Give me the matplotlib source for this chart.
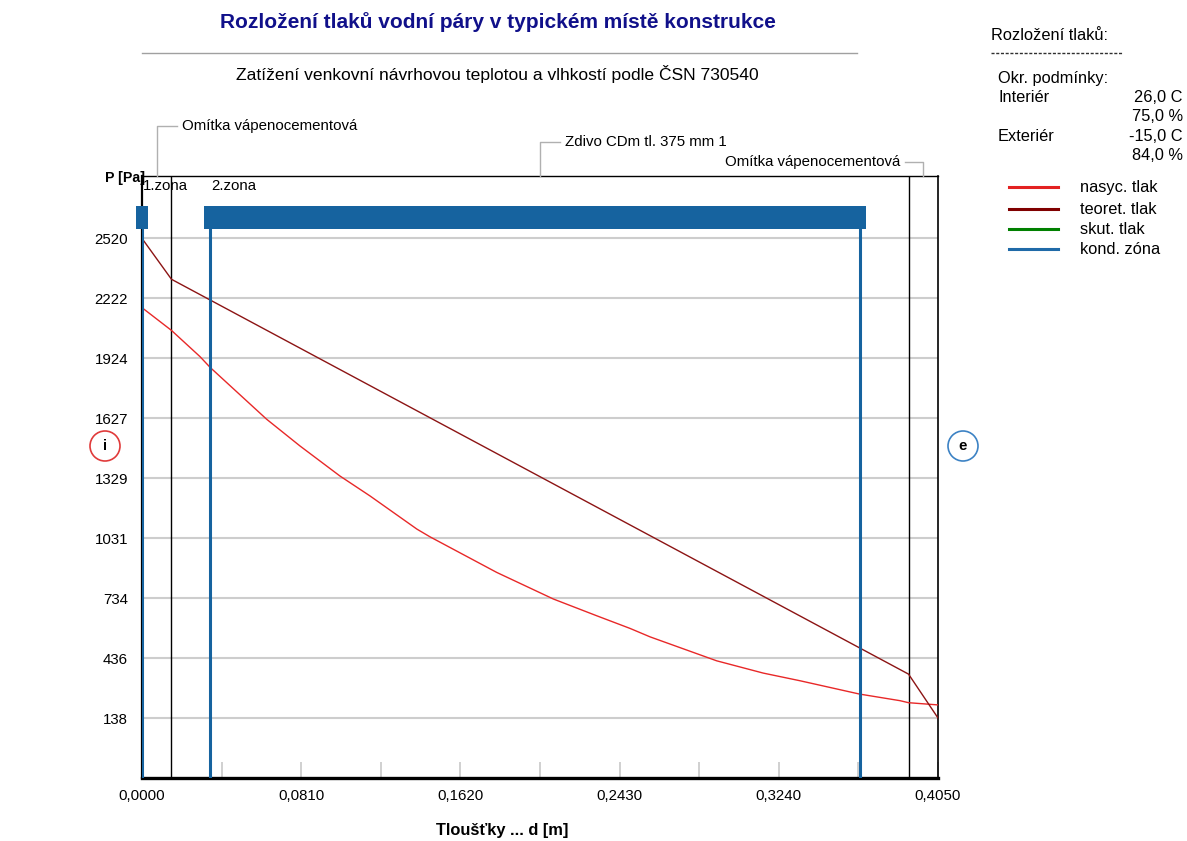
import matplotlib
matplotlib.use("Agg")
import matplotlib.pyplot as plt
from matplotlib.patches import Rectangle, Circle
from matplotlib.lines import Line2D

plt.rcParams['font.family'] = ['Liberation Sans', 'DejaVu Sans']

# ---- data -----------------------------------------------------------------
title = "Rozložení tlaků vodní páry v typickém místě konstrukce"
subtitle = "Zatížení venkovní návrhovou teplotou a vlhkostí podle ČSN 730540"

layer_names = ["Omítka vápenocementová", "Zdivo CDm tl. 375 mm 1", "Omítka vápenocementová"]
layer_bounds = [0.0, 0.015, 0.390, 0.405]

# theoretical partial pressure of water vapour [Pa]
teor_d = [0.0, 0.015, 0.390, 0.405]
teor_p = [2520, 2317, 356, 138]

# saturated vapour pressure [Pa]
sat_d = [0.0, 0.015, 0.0295, 0.0346, 0.0634, 0.0804, 0.1007, 0.1160, 0.1399,
         0.1465, 0.1805, 0.2093, 0.2313, 0.2483, 0.2585, 0.2924, 0.3161,
         0.3348, 0.3650, 0.3857, 0.390, 0.405]
sat_p = [2176, 2063, 1933, 1880, 1622, 1489, 1340, 1241, 1076,
         1038, 861, 729, 646, 583, 541, 422, 361,
         323, 257, 224, 214, 203]

# condensation zones (start, end) [m]
zone_start = [0.0, 0.0346]
zone_end = [0.0, 0.3653]
zone_labels = ["1.zona", "2.zona"]

y_ticks = [138, 436, 734, 1031, 1329, 1627, 1924, 2222, 2520]
x_ticks = [0.0, 0.081, 0.162, 0.243, 0.324, 0.405]
x_minor = [0.0405, 0.1215, 0.2025, 0.2835, 0.3645]
x_tick_labels = ["0,0000", "0,0810", "0,1620", "0,2430", "0,3240", "0,4050"]

cond_names = ["Interiér", "", "Exteriér", ""]
cond_values = ["26,0 C", "75,0 %", "-15,0 C", "84,0 %"]

legend_labels = ["nasyc. tlak", "teoret. tlak", "skut. tlak", "kond. zóna"]
legend_colors = ["#e32222", "#800000", "#008000", "#1f6aa8"]

# ---- styling --------------------------------------------------------------
W, H = 1187, 841
FS = 10.8
FS_SIDE = 11.8
C_SAT = "#e82828"
C_TEOR = "#8c1414"
C_ZONE = "#16639f"
C_GRID = "#cdcdcd"
TITLE_C = "#10108a"

fig = plt.figure(figsize=(W / 100, H / 100), dpi=100)
fig.patch.set_facecolor("white")

ax = fig.add_axes([142 / W, 1 - 778 / H, 796 / W, 602 / H])
ax.set_xlim(0, 0.405)
ax.set_ylim(-160, 2830)

ax.set_axisbelow(True)
ax.set_yticks(y_ticks)
ax.set_yticklabels([str(v) for v in y_ticks], fontsize=FS)
ax.yaxis.grid(True, color=C_GRID, lw=1.5)
ax.tick_params(axis="y", length=0, pad=10)

ax.set_xticks(x_ticks)
ax.set_xticklabels(x_tick_labels, fontsize=FS)
ax.set_xticks(x_minor, minor=True)
ax.tick_params(axis="x", which="both", direction="in", length=11.5,
               width=1.2, color="#c8c8c8", pad=8)

for side, lw in (("bottom", 2.4), ("top", 1.0), ("right", 1.2), ("left", 1.6)):
    ax.spines[side].set_linewidth(lw)
    ax.spines[side].set_color("black")

# layer boundaries
for b in layer_bounds[1:-1]:
    ax.axvline(b, color="black", lw=1.0, zorder=3)

# pressure curves
ax.plot(sat_d, sat_p, color=C_SAT, lw=1.0, zorder=4)
ax.plot(teor_d, teor_p, color=C_TEOR, lw=1.0, zorder=4)

# condensation zones
xt = ax.get_xaxis_transform()
pad = 0.003
bar_lo, bar_h = 0.912, 0.038
for s, e, lbl in zip(zone_start, zone_end, zone_labels):
    ax.add_patch(Rectangle((s - pad, bar_lo), (e - s) + 2 * pad, bar_h,
                           transform=xt, color=C_ZONE, lw=0, zorder=5,
                           clip_on=False))
    for xv in sorted(set([s, e])):
        ax.axvline(xv, ymin=0, ymax=bar_lo, color=C_ZONE, lw=2.2, zorder=5)
    ax.text(s + 0.0006, 0.983, lbl, transform=xt, ha="left", va="center",
            fontsize=FS, zorder=6)

# ---- overlay in pixel coordinates ------------------------------------------
ov = fig.add_axes([0, 0, 1, 1])
ov.set_xlim(0, W)
ov.set_ylim(H, 0)
ov.axis("off")


def to_px(d, p):
    x, y = ax.transData.transform((d, p))
    return x, H - y


# titles
ov.text(498, 22, title, ha="center", va="center", fontsize=15.0,
        fontweight="bold", color=TITLE_C)
ov.plot([142, 857], [53, 53], color="#a0a0a0", lw=1.0)
ov.text(497, 74, subtitle, ha="center", va="center", fontsize=12.6)

# layer labels with connector lines
_, top_px = to_px(0, 2830)
label_y = [126, 142, 162]
for i, name in enumerate(layer_names):
    mid = 0.5 * (layer_bounds[i] + layer_bounds[i + 1])
    mx, _ = to_px(mid, 0)
    ly = label_y[i]
    if i < len(layer_names) - 1:
        ov.plot([mx, mx, mx + 20], [top_px, ly, ly], color="#b0b0b0", lw=1.0)
        ov.text(mx + 25, ly, name, ha="left", va="center", fontsize=FS)
    else:
        ov.plot([mx, mx, mx - 18], [top_px, ly, ly], color="#b0b0b0", lw=1.0)
        ov.text(mx - 23, ly, name, ha="right", va="center", fontsize=FS)

# axis titles
ov.text(145, 178, "P [Pa]", ha="right", va="center", fontsize=10.2, fontweight="bold")
ov.text(502, 831, "Tloušťky ... d [m]", ha="center", va="center",
        fontsize=11.8, fontweight="bold")

# interior / exterior markers
ov.add_patch(Circle((105, 446), 15, fill=False, ec="#e03a3a", lw=1.2))
ov.text(105, 446, "i", ha="center", va="center", fontsize=FS, fontweight="bold")
ov.add_patch(Circle((963, 446), 15, fill=False, ec="#3c82c4", lw=1.2))
ov.text(963, 446, "e", ha="center", va="center", fontsize=FS, fontweight="bold")

# side panel: boundary conditions and legend
ov.text(991, 35, "Rozložení tlaků:", ha="left", va="center", fontsize=FS_SIDE)
ov.plot([991, 1123], [53, 53], color="#303030", lw=1.0, ls=(0, (2.2, 1.2)))
ov.text(998, 78, "Okr. podmínky:", ha="left", va="center", fontsize=FS_SIDE)
row_y = [97, 116, 136, 155]
for name, val, y in zip(cond_names, cond_values, row_y):
    if name:
        ov.text(998, y, name, ha="left", va="center", fontsize=FS_SIDE)
    ov.text(1183, y, val, ha="right", va="center", fontsize=FS_SIDE)

leg_y = [187, 209, 229, 249]
for lbl, col, y in zip(legend_labels, legend_colors, leg_y):
    ov.add_line(Line2D([1009, 1058], [y, y], color=col, lw=2.2))
    ov.text(1080, y, lbl, ha="left", va="center", fontsize=FS_SIDE)

fig.savefig("out.png", dpi=100)
